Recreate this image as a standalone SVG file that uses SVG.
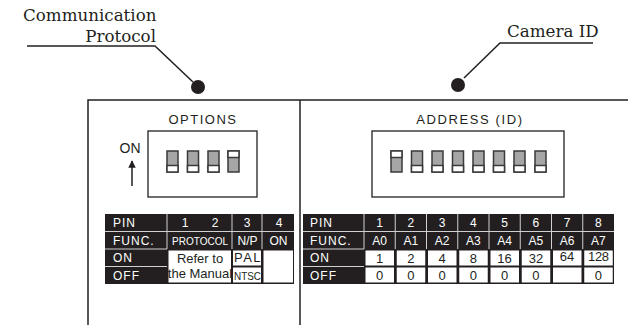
<svg xmlns="http://www.w3.org/2000/svg" width="628" height="325" viewBox="0 0 628 325">
<style>
.serif{font-family:"DejaVu Serif","Liberation Serif",serif;font-size:16.7px;fill:#231f20}
.sans{font-family:"Liberation Sans",Arial,sans-serif;fill:#231f20}
.hd{font-family:"Liberation Sans",Arial,sans-serif;font-size:12px;fill:#fff;letter-spacing:1px}
.hc{font-family:"Liberation Sans",Arial,sans-serif;font-size:12px;fill:#fff;text-anchor:middle}
.dc{font-family:"Liberation Sans",Arial,sans-serif;font-size:13px;fill:#231f20;text-anchor:middle}
.line{stroke:#231f20;stroke-width:1.5;fill:none}
.dk{fill:#231f20}
.wc{fill:#fff}
.sep{stroke:#d0d0d0;stroke-width:1}
.sw{fill:#a6a6a6;stroke:#3a3a3a;stroke-width:1.5}
.swh{fill:#fff;stroke:#3a3a3a;stroke-width:1.5}
</style>
<defs>
<g id="swoff"><rect class="sw" x="0" y="0" width="11" height="21"/><rect class="swh" x="0" y="14.5" width="11" height="6.5"/></g>
<g id="swon"><rect class="sw" x="0" y="0" width="11" height="21"/><rect class="swh" x="0" y="0" width="11" height="6.5"/></g>
<marker id="ah" viewBox="0 0 10 10" refX="9" refY="5" markerWidth="5" markerHeight="5" orient="auto"><path d="M0,0 L10,5 L0,10 z" fill="#231f20"/></marker>
</defs>

<g id="connectors">
<polyline class="line" points="27,46 155,46 193,82"/>
<polyline class="line" points="593,43 500,43 464,78"/>
<line class="line" x1="132" y1="186" x2="132" y2="161" marker-end="url(#ah)"/>
</g>

<g id="label-protocol">
<text class="serif" x="23" y="21">Communication</text>
<text class="serif" x="156" y="42" text-anchor="end">Protocol</text>
<circle cx="198" cy="87" r="7" fill="#231f20"/>
</g>

<g id="label-camera">
<text class="serif" x="507" y="37">Camera ID</text>
<circle cx="458" cy="85" r="7" fill="#231f20"/>
</g>

<g id="body">
<polyline class="line" points="88,325 88,100 628,100"/>
<line class="line" x1="300" y1="100" x2="300" y2="325"/>
</g>

<g id="options">
<text class="sans" x="203" y="124" font-size="13" letter-spacing="1.5" text-anchor="middle">OPTIONS</text>
<rect x="148" y="131" width="109" height="66" fill="none" stroke="#231f20" stroke-width="1.3"/>
<text class="sans" x="130" y="153" font-size="14" text-anchor="middle">ON</text>
<use href="#swoff" x="167" y="151"/>
<use href="#swoff" x="187.5" y="151"/>
<use href="#swoff" x="208" y="151"/>
<use href="#swon" x="228" y="151"/>
</g>

<g id="address">
<text class="sans" x="470" y="124" font-size="13" letter-spacing="1.6" text-anchor="middle">ADDRESS (ID)</text>
<rect x="372" y="131" width="192" height="66" fill="none" stroke="#231f20" stroke-width="1.3"/>
<use href="#swon" x="391" y="151"/>
<use href="#swoff" x="411.5" y="151"/>
<use href="#swoff" x="432" y="151"/>
<use href="#swoff" x="452.5" y="151"/>
<use href="#swoff" x="473" y="151"/>
<use href="#swoff" x="493.5" y="151"/>
<use href="#swoff" x="514" y="151"/>
<use href="#swoff" x="535" y="151"/>
</g>

<g id="options-table">
<rect class="dk" x="105" y="214" width="189" height="70"/>
<line class="sep" x1="105" y1="231.5" x2="294" y2="231.5"/>
<line class="sep" x1="105" y1="249" x2="167" y2="249"/>
<line class="sep" x1="105" y1="266.5" x2="167" y2="266.5"/>
<line class="sep" x1="167" y1="214" x2="167" y2="249"/>
<line class="sep" x1="232" y1="214" x2="232" y2="249"/>
<line class="sep" x1="262" y1="214" x2="262" y2="249"/>
<rect class="wc" x="168.5" y="250.5" width="62.5" height="32"/>
<rect class="wc" x="233" y="250.5" width="28" height="15"/>
<rect class="wc" x="233" y="267.5" width="28" height="15"/>
<rect class="wc" x="263.5" y="250.5" width="29.5" height="32"/>
<text class="hd" x="113" y="227">PIN</text>
<text class="hd" x="113" y="244.5">FUNC.</text>
<text class="hd" x="113" y="262">ON</text>
<text class="hd" x="113" y="279.5">OFF</text>
<text class="hc" x="185" y="227">1</text>
<text class="hc" x="215" y="227">2</text>
<text class="hc" x="247" y="227">3</text>
<text class="hc" x="279" y="227">4</text>
<text x="172" y="244.5" font-family="Liberation Sans, Arial, sans-serif" font-size="10" fill="#fff" textLength="56" lengthAdjust="spacingAndGlyphs">PROTOCOL</text>
<text class="hc" x="247.5" y="245" font-size="13">N/P</text>
<text class="hc" x="278.5" y="245" font-size="13">ON</text>
<text class="dc" x="200" y="263" font-size="12">Refer to</text>
<text class="dc" x="200" y="277.5" font-size="12">the Manual</text>
<text class="dc" x="248" y="262" font-size="12" letter-spacing="1.5">PAL</text>
<text class="sans" x="234" y="279.5" font-size="10.5" textLength="27" lengthAdjust="spacingAndGlyphs">NTSC</text>
</g>

<g id="address-table">
<rect class="dk" x="303" y="214" width="311" height="70"/>
<line class="sep" x1="303" y1="231.5" x2="614" y2="231.5"/>
<line class="sep" x1="303" y1="249" x2="364" y2="249"/>
<line class="sep" x1="303" y1="266.5" x2="364" y2="266.5"/>
<g class="sep">
<line x1="364" y1="214" x2="364" y2="249"/>
<line x1="395.25" y1="214" x2="395.25" y2="249"/>
<line x1="426.5" y1="214" x2="426.5" y2="249"/>
<line x1="457.75" y1="214" x2="457.75" y2="249"/>
<line x1="489" y1="214" x2="489" y2="249"/>
<line x1="520.25" y1="214" x2="520.25" y2="249"/>
<line x1="551.5" y1="214" x2="551.5" y2="249"/>
<line x1="582.75" y1="214" x2="582.75" y2="249"/>
</g>
<g class="wc">
<rect x="365.5" y="250.5" width="28.5" height="15"/>
<rect x="396.75" y="250.5" width="28.5" height="15"/>
<rect x="428" y="250.5" width="28.5" height="15"/>
<rect x="459.25" y="250.5" width="28.5" height="15"/>
<rect x="490.5" y="250.5" width="28.5" height="15"/>
<rect x="521.75" y="250.5" width="28.5" height="15"/>
<rect x="553" y="250.5" width="28.5" height="15"/>
<rect x="584.25" y="250.5" width="28.5" height="15"/>
<rect x="365.5" y="267.5" width="28.5" height="15"/>
<rect x="396.75" y="267.5" width="28.5" height="15"/>
<rect x="428" y="267.5" width="28.5" height="15"/>
<rect x="459.25" y="267.5" width="28.5" height="15"/>
<rect x="490.5" y="267.5" width="28.5" height="15"/>
<rect x="521.75" y="267.5" width="28.5" height="15"/>
<rect x="553" y="267.5" width="28.5" height="15"/>
<rect x="584.25" y="267.5" width="28.5" height="15"/>
</g>
<text class="hd" x="310" y="227">PIN</text>
<text class="hd" x="310" y="244.5">FUNC.</text>
<text class="hd" x="310" y="262">ON</text>
<text class="hd" x="310" y="279.5">OFF</text>
<text class="hc" x="379.6" y="227">1</text>
<text class="hc" x="410.9" y="227">2</text>
<text class="hc" x="442.1" y="227">3</text>
<text class="hc" x="473.4" y="227">4</text>
<text class="hc" x="504.6" y="227">5</text>
<text class="hc" x="535.9" y="227">6</text>
<text class="hc" x="567.1" y="227">7</text>
<text class="hc" x="598.4" y="227">8</text>
<text class="hc" x="379.6" y="245">A0</text>
<text class="hc" x="410.9" y="245">A1</text>
<text class="hc" x="442.1" y="245">A2</text>
<text class="hc" x="473.4" y="245">A3</text>
<text class="hc" x="504.6" y="245">A4</text>
<text class="hc" x="535.9" y="245">A5</text>
<text class="hc" x="567.1" y="245">A6</text>
<text class="hc" x="598.4" y="245">A7</text>
<text class="dc" x="379.6" y="263">1</text>
<text class="dc" x="410.9" y="263">2</text>
<text class="dc" x="442.1" y="263">4</text>
<text class="dc" x="473.4" y="263">8</text>
<text class="dc" x="504.6" y="263">16</text>
<text class="dc" x="535.9" y="263">32</text>
<text class="dc" x="567.1" y="261">64</text>
<text class="dc" x="598.4" y="261" letter-spacing="-0.3">128</text>
<text class="dc" x="379.6" y="280">0</text>
<text class="dc" x="410.9" y="280">0</text>
<text class="dc" x="442.1" y="280">0</text>
<text class="dc" x="473.4" y="280">0</text>
<text class="dc" x="504.6" y="280">0</text>
<text class="dc" x="535.9" y="280">0</text>
<text class="dc" x="598.4" y="280">0</text>
</g>
</svg>
